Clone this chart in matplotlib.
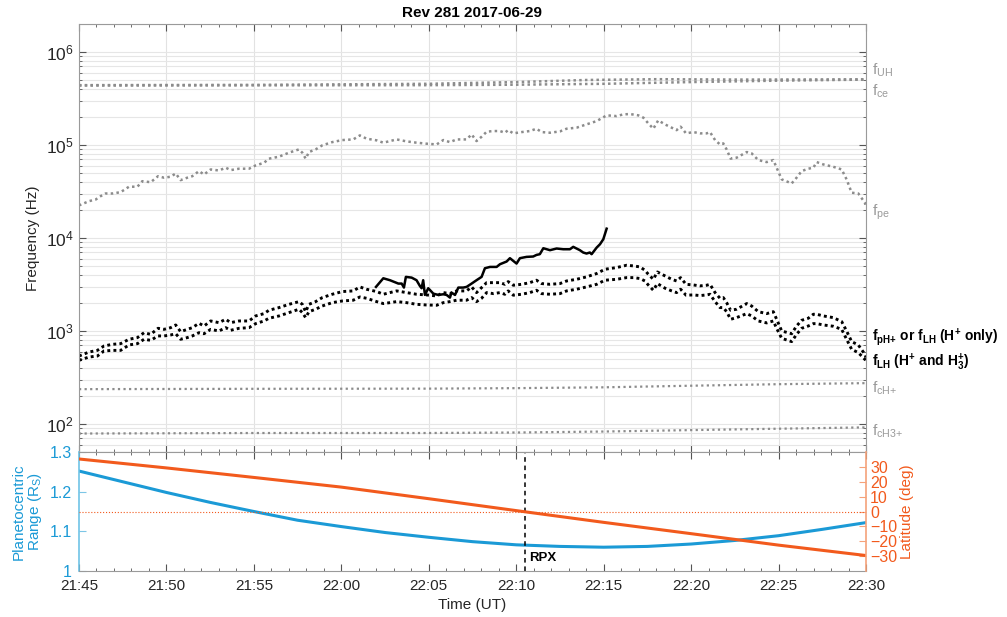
import numpy as np
import matplotlib
matplotlib.use("Agg")
import matplotlib.pyplot as plt
from matplotlib.ticker import MultipleLocator, LogLocator, NullFormatter, FixedLocator

plt.rcParams['font.family'] = ['Liberation Sans', 'DejaVu Sans']
plt.rcParams['mathtext.fontset'] = 'custom'
plt.rcParams['mathtext.rm'] = 'Liberation Sans'
plt.rcParams['mathtext.it'] = 'Liberation Sans:italic'
plt.rcParams['mathtext.bf'] = 'Liberation Sans:bold'

# time is in minutes after 21:45 UT
time_ticks = [0, 5, 10, 15, 20, 25, 30, 35, 40, 45]
time_labels = ['21:45', '21:50', '21:55', '22:00', '22:05',
               '22:10', '22:15', '22:20', '22:25', '22:30']

# electron cyclotron / upper hybrid (Hz)
t_ce = [0, 10, 20, 25, 30, 35, 40, 45]
f_ce = [4.36e5, 4.38e5, 4.40e5, 4.45e5, 4.55e5, 4.75e5, 4.92e5, 5.05e5]
t_uh = [0, 10, 20, 25, 29, 33, 38, 45]
f_uh = [4.40e5, 4.43e5, 4.55e5, 4.75e5, 5.00e5, 5.10e5, 5.05e5, 5.08e5]

# ion cyclotron lines (Hz)
t_ci = [0, 10, 20, 25, 30, 35, 40, 45]
f_ch = [237, 239, 240, 243, 248, 258, 268, 275]
f_ch3 = [79, 80, 80, 81, 83, 86, 89, 92]

# electron plasma frequency (Hz)
t_pe = [0, 0.57, 0.95, 1.24, 1.52, 1.91, 2.38, 2.86, 3.34, 3.62, 4.10, 4.52,
        4.86, 5.24, 5.53, 5.81, 6.19, 6.48, 6.86, 7.15, 7.53, 8.00, 8.39, 8.67,
        9.15, 9.72, 10.10, 10.58, 10.86, 11.43, 12.00, 12.58, 12.77, 12.96,
        13.15, 13.53, 13.91, 14.48, 15.06, 15.68, 16.06, 16.44, 17.02, 17.40,
        17.78, 18.16, 18.73, 19.30, 19.87, 20.45, 20.83, 21.21, 21.59, 22.16,
        22.45, 22.73, 23.02, 23.31, 23.69, 24.07, 24.35, 24.54, 24.83, 25.31,
        25.78, 26.16, 26.45, 26.93, 27.50, 27.88, 28.45, 29.02, 29.60, 30.17,
        30.74, 31.12, 31.50, 31.98, 32.27, 32.55, 32.84, 33.12, 33.50, 33.89,
        34.17, 34.40, 34.71, 35.13, 35.51, 35.89, 36.08, 36.37, 36.65, 36.84,
        37.03, 37.26, 37.60, 38.18, 38.46, 38.84, 39.32, 39.70, 39.89, 40.18,
        40.75, 41.03, 41.32, 41.70, 41.99, 42.18, 42.56, 43.13, 43.61, 43.89,
        44.18, 44.56, 44.94, 45.0]
f_pe = [22400, 24900, 25900, 28200, 30100, 30100, 31100, 35600, 35600, 40800,
        39800, 46200, 44500, 45600, 49400, 41900, 44500, 46200, 52400, 48200,
        54600, 53200, 57000, 53700, 55600, 55600, 60300, 64400, 71300, 74800,
        82600, 89700, 82600, 71300, 84000, 89700, 99100, 107400, 113000, 114800,
        126800, 117000, 112200, 105900, 110200, 114800, 109400, 105900, 103300,
        101400, 113000, 107400, 114800, 114800, 130000, 110200, 122700, 139000,
        141300, 141300, 135500, 144500, 133400, 137700, 141300, 149600, 137700,
        135500, 140000, 149600, 153500, 166700, 180700, 208400, 204600, 213300,
        215300, 208400, 196800, 171000, 149600, 184100, 166700, 153500, 144500,
        157400, 133400, 137700, 133400, 133400, 137700, 113000, 101400, 104000,
        89700, 71300, 73000, 84000, 81300, 68900, 65500, 68900, 57000, 42700,
        38600, 44500, 52400, 55600, 57000, 65500, 61800, 58300, 54600, 42700,
        30700, 30100, 23900, 21300]

# proton plasma / lower hybrid frequencies (Hz)
t_lh = [0, 0.57, 1.05, 1.43, 1.91, 2.38, 2.86, 3.34, 3.72, 4.10, 4.52, 4.86,
        5.24, 5.53, 5.81, 6.19, 6.48, 6.86, 7.15, 7.53, 8.00, 8.39, 8.67, 9.15,
        9.72, 10.10, 10.58, 10.86, 11.44, 12.01, 12.58, 12.77, 12.96, 13.15,
        13.53, 13.91, 14.48, 15.06,
        15.68, 16.06, 16.44, 17.02, 17.40, 17.78, 18.16, 18.73, 19.30, 19.87,
        20.45, 20.83, 21.21, 21.59, 22.16, 22.45, 22.73, 23.02, 23.31, 23.69,
        24.07, 24.35, 24.54, 24.83, 25.31, 25.78, 26.16, 26.45, 26.93, 27.50,
        27.88, 28.45, 29.02, 29.60, 30.07,
        30.74, 31.31, 31.70, 32.08, 32.36, 32.55, 32.84, 33.07, 33.51, 33.89,
        34.17, 34.40, 34.71, 35.13, 35.51, 35.89, 36.08, 36.37, 36.65, 36.84,
        37.03, 37.26, 37.60, 38.18, 38.46, 38.84, 39.32, 39.70, 39.89, 40.18,
        40.75, 41.03, 41.32, 41.70, 41.99, 42.18, 42.56, 43.13, 43.61, 43.89,
        44.18, 44.56, 44.94, 45.0]
f_ph = [538, 594, 619, 690, 719, 731, 815, 849, 959, 920, 1069, 1042, 1086,
        1161, 984, 1042, 1086, 1211, 1132, 1282, 1230, 1337, 1230, 1282, 1282,
        1452, 1538, 1671, 1786, 1936, 2070, 1936, 1614, 1936, 2070, 2286, 2483,
        2655,
        2698, 2979, 2812, 2655, 2483, 2588, 2698, 2588, 2483, 2443, 2382, 2588,
        2523, 2698, 2698, 2979, 2588, 2931, 3311, 3311, 3311, 3177, 3396, 3105,
        3177, 3311, 3516, 3236, 3177, 3236, 3451, 3597, 3819, 4150, 4613,
        4808, 5093, 5012, 4887, 4498, 4077, 3597, 4315, 3909, 3597, 3451, 3750,
        3177, 3126, 3055, 3105, 3177, 2588, 2249, 2286, 2018, 1671, 1714, 1972,
        1858, 1614, 1538, 1614, 1337, 1000, 935, 1132, 1303, 1371, 1514, 1514,
        1452, 1393, 1262, 1000, 769, 708, 561, 520]
f_lh = [484, 525, 538, 610, 619, 619, 708, 731, 815, 794, 885, 885, 906, 935,
        815, 849, 885, 959, 935, 1042, 1000, 1086, 1018, 1069, 1086, 1200, 1282,
        1371, 1452, 1578, 1714, 1578, 1393, 1614, 1714, 1858, 2018, 2104,
        2143, 2323, 2249, 2070, 1972, 2018, 2070, 2018, 1936, 1905, 1892, 2018,
        2070, 2143, 2143, 2286, 2070, 2249, 2588, 2523, 2588, 2483, 2698, 2427,
        2483, 2588, 2742, 2523, 2483, 2523, 2698, 2812, 2979, 3177, 3516,
        3597, 3750, 3750, 3664, 3451, 3126, 2742, 3236, 2884, 2698, 2588, 2812,
        2427, 2443, 2404, 2443, 2483, 2070, 1786, 1786, 1614, 1337, 1393, 1538,
        1452, 1282, 1222, 1282, 1069, 834, 769, 920, 1069, 1132, 1200, 1200,
        1161, 1125, 1042, 815, 635, 585, 495, 470]

# observed emission cutoff (Hz)
t_obs = [16.98, 17.40, 17.78, 18.26, 18.45, 18.58, 18.69, 19.02, 19.30, 19.49,
         19.59, 19.68, 19.78, 19.97, 20.26, 20.54, 20.83, 21.02, 21.21, 21.30,
         21.50, 21.69, 21.97, 22.16, 22.45, 22.73, 23.02, 23.21, 23.50, 23.88,
         24.07, 24.45, 24.64, 24.83, 25.02, 25.21, 25.59, 25.97, 26.16, 26.35,
         26.55, 26.93, 27.31, 27.69, 28.07, 28.26, 28.64, 28.83, 29.02, 29.21,
         29.31, 29.60, 29.79, 29.98, 30.17]
f_obs = [2979, 3690, 3516, 3236, 3236, 2931, 3819, 3750, 3516, 3055, 2884,
         3516, 2443, 2884, 2523, 2443, 2483, 2443, 2286, 2588, 2443, 2931, 2931,
         2979, 3236, 3516, 3819, 4730, 4887, 4887, 5224, 5585, 6067, 5675, 5309,
         6067, 6266, 6324, 6577, 6699, 7762, 7396, 7709, 7568, 7568, 8035, 7396,
         6982, 6808, 6982, 6699, 7889, 8570, 9705, 12600]

# trajectory
t_traj = [0, 2.5, 5, 7.5, 10, 12.5, 15, 17.5, 20, 22.5, 25, 27.5, 30, 32.5,
          35, 37.5, 40, 42.5, 45]
range_rs = [1.252, 1.225, 1.198, 1.173, 1.150, 1.128, 1.112, 1.097, 1.085,
            1.074, 1.066, 1.062, 1.060, 1.062, 1.068, 1.077, 1.089, 1.105, 1.122]
t_lat = [0, 5, 10, 15, 20, 25, 30, 35, 40, 45]
lat_deg = [35.3, 29.3, 22.9, 16.4, 8.6, 0.6, -7.3, -14.9, -22.6, -29.6]
t_rpx = 25.5

blue = '#1b9ad6'
orange = '#f25a1d'
gray = '#8c8c8c'
spine_gray = '#9a9a9a'
tick_col = '#262626'

fig = plt.figure(figsize=(10.07, 6.17), dpi=100)
ax1 = fig.add_axes([0.07845, 0.26742, 0.78153, 0.69368])
ax2 = fig.add_axes([0.07845, 0.07455, 0.78153, 0.19287])

# ---- frequency panel
ax1.set_yscale('log')
ax1.set_ylim(50, 2e6)
ax1.set_xlim(0, 45)
ax1.set_axisbelow(True)

ax1.plot(t_ce, f_ce, color=gray, lw=1.8, dashes=(1, 1.3))
ax1.plot(t_uh, f_uh, color=gray, lw=1.8, dashes=(1, 1.3))
ax1.plot(t_pe, f_pe, color=gray, lw=1.8, dashes=(1, 1.3))
ax1.plot(t_ci, f_ch, color=gray, lw=1.6, dashes=(1, 1.5))
ax1.plot(t_ci, f_ch3, color=gray, lw=1.6, dashes=(1, 1.5))
ax1.plot(t_lh, f_ph, color='k', lw=2.1, dashes=(1, 1.1))
ax1.plot(t_lh, f_lh, color='k', lw=2.1, dashes=(1, 1.1))
ax1.plot(t_obs, f_obs, color='k', lw=1.8)

ax1.xaxis.set_major_locator(FixedLocator(time_ticks))
ax1.xaxis.set_minor_locator(MultipleLocator(1))
ax1.xaxis.set_major_formatter(NullFormatter())
ax1.yaxis.set_major_locator(LogLocator(base=10))
ax1.yaxis.set_minor_locator(LogLocator(base=10, subs=np.arange(2, 10)))
ax1.yaxis.set_minor_formatter(NullFormatter())
ax1.grid(True, which='major', axis='x', color='#e2e2e2', lw=0.8)
ax1.grid(True, which='both', axis='y', color='#e6e6e6', lw=0.8)
ax1.tick_params(which='both', direction='in', top=True, right=True,
                color='#555555', labelsize=12.5, labelcolor=tick_col, pad=4)
ax1.tick_params(which='major', length=5)
ax1.tick_params(which='minor', length=2.5)
for s in ax1.spines.values():
    s.set_color(spine_gray)
ax1.set_ylabel('Frequency (Hz)', fontsize=11, color=tick_col, labelpad=4)
ax1.set_title('Rev 281 2017-06-29', fontsize=11, fontweight='bold', pad=5)

# curve names along the right edge
ytr = ax1.get_yaxis_transform()
lab_gray = '#9a9a9a'
gray_labels = [(6.3e5, r'f$_{\mathrm{UH}}$'),
               (3.8e5, r'f$_{\mathrm{ce}}$'),
               (1.88e4, r'f$_{\mathrm{pe}}$'),
               (245, r'f$_{\mathrm{cH{+}}}$'),
               (83, r'f$_{\mathrm{cH3{+}}}$')]
for yv, s in gray_labels:
    ax1.text(1.007, yv, s, color=lab_gray, fontsize=11, va='center',
             transform=ytr)
ax1.text(1.007, 850,
         r'f$_{\mathbf{pH{+}}}$ or f$_{\mathbf{LH}}$ (H$^{\mathbf{+}}$ only)',
         color='k', fontsize=10, fontweight='bold', va='center', transform=ytr)
ax1.text(1.007, 460,
         r'f$_{\mathbf{LH}}$ (H$^{\mathbf{+}}$ and H$_{\mathbf{3}}^{\mathbf{+}}$)',
         color='k', fontsize=10, fontweight='bold', va='center', transform=ytr)

# ---- trajectory panel
ax2.set_xlim(0, 45)
ax2.set_ylim(1, 1.3)
ax2.plot(t_traj, range_rs, color=blue, lw=2.2)
ax2.set_yticks([1, 1.1, 1.2, 1.3])
ax2.set_yticklabels(['1', '1.1', '1.2', '1.3'])
ax2.xaxis.set_major_locator(FixedLocator(time_ticks))
ax2.xaxis.set_minor_locator(MultipleLocator(1))
ax2.set_xticklabels(time_labels)
ax2.tick_params(axis='x', which='both', direction='in', top=True,
                color='#555555', labelsize=11, labelcolor=tick_col, pad=6)
ax2.tick_params(axis='x', which='major', length=5)
ax2.tick_params(axis='x', which='minor', length=2.5)
ax2.tick_params(axis='y', direction='in', color='#7cc6e6', length=5,
                labelsize=11.5, labelcolor=blue, pad=5)
ax2.spines['left'].set_color('#6fc3e6')
ax2.spines['left'].set_linewidth(1.2)
ax2.spines['right'].set_visible(False)
ax2.spines['top'].set_color(spine_gray)
ax2.spines['bottom'].set_color(spine_gray)
ax2.set_ylabel('Planetocentric\nRange (R$_{\\mathrm{S}}$)', color=blue,
               fontsize=11, labelpad=4, linespacing=1.0)
ax2.set_xlabel('Time (UT)', fontsize=11, color=tick_col, labelpad=3)

ax2.axvline(t_rpx, color='k', ls='--', lw=1.1, dashes=(3, 2.5))
ax2.text(t_rpx + 0.25, 1.033, 'RPX', fontsize=9.5, fontweight='bold',
         va='center', ha='left')

ax3 = ax2.twinx()
ax3.set_ylim(-40, 40)
ax3.axhline(0, color=orange, ls=':', lw=0.8)
ax3.plot(t_lat, lat_deg, color=orange, lw=2.2)
ax3.set_yticks([-30, -20, -10, 0, 10, 20, 30])
ax3.tick_params(axis='y', direction='in', color='#f5a27a', length=5,
                labelsize=11.5, labelcolor=orange, pad=3)
ax3.spines['right'].set_color('#f5a27a')
ax3.spines['right'].set_linewidth(1.2)
ax3.spines['left'].set_visible(False)
ax3.spines['top'].set_visible(False)
ax3.spines['bottom'].set_visible(False)
ax3.set_ylabel('Latitude (deg)', color=orange, fontsize=11, labelpad=2)

fig.savefig('out.png', dpi=100)
